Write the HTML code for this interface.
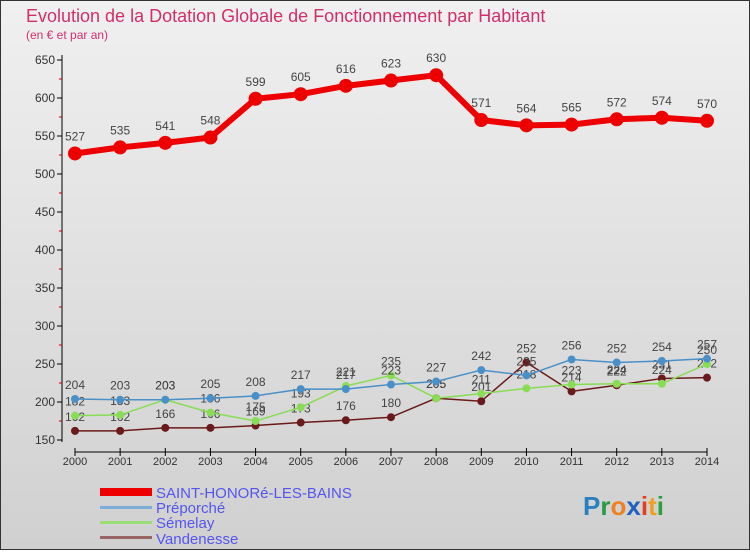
<!DOCTYPE html>
<html><head><meta charset="utf-8"><style>
body{margin:0;width:750px;height:550px;overflow:hidden;font-family:"Liberation Sans",sans-serif}
svg text{font-family:"Liberation Sans",sans-serif}
</style></head><body>
<svg id="c" width="750" height="550" viewBox="0 0 750 550">
<defs><linearGradient id="bg" x1="0" y1="0" x2="0" y2="1"><stop offset="0" stop-color="#f0f0f0"/><stop offset="1" stop-color="#d0d0d0"/></linearGradient></defs>
<rect x="0.5" y="0.5" width="749" height="549" fill="url(#bg)" stroke="#333"/>
<text x="26" y="22" font-size="18" fill="#d0306a">Evolution de la Dotation Globale de Fonctionnement par Habitant</text>
<text x="26" y="39" font-size="12" fill="#d0306a">(en € et par an)</text>
<g id="axes"></g><g id="series"></g>
<g>
<rect x="100" y="488" width="52" height="8" fill="#e00"/>
<text x="156" y="498" font-size="15" fill="#5555ee">SAINT-HONORé-LES-BAINS</text>
<rect x="100" y="506" width="52" height="3" fill="#7aaed8"/>
<text x="156" y="513" font-size="15" fill="#5555ee">Préporché</text>
<rect x="100" y="521" width="52" height="3" fill="#99dd77"/>
<text x="156" y="528" font-size="15" fill="#5555ee">Sémelay</text>
<rect x="100" y="536" width="52" height="3" fill="#996666"/>
<text x="156" y="544" font-size="15" fill="#5555ee">Vandenesse</text>
</g>
<text x="583" y="515" font-size="26" font-weight="bold"><tspan fill="#2a7fc0">P</tspan><tspan fill="#2a9a40">r</tspan><tspan fill="#f08020">o</tspan><tspan fill="#2060c0">x</tspan><tspan fill="#e04020">i</tspan><tspan fill="#f0a020">t</tspan><tspan fill="#2aa040">i</tspan></text>
</svg>
<script>
const years=[2000,2001,2002,2003,2004,2005,2006,2007,2008,2009,2010,2011,2012,2013,2014];
const yTicks=[150,200,250,300,350,400,450,500,550,600,650];
const saintHonore=[527,535,541,548,599,605,616,623,630,571,564,565,572,574,570];
const preporche=[204,203,203,205,208,217,217,223,227,242,235,256,252,254,257];
const semelay=[182,183,203,186,175,193,221,235,205,211,218,223,224,224,250];
const vandenesse=[162,162,166,166,169,173,176,180,205,201,252,214,222,231,232];
const NS="http://www.w3.org/2000/svg";
const xs=i=>75+i*(632/14);
const ys=v=>440-(v-150)*0.76;
function mk(t,a,p){const e=document.createElementNS(NS,t);for(const k in a)e.setAttribute(k,a[k]);p.appendChild(e);return e;}
const ax=document.getElementById('axes');
let l=mk('line',{x1:62,y1:55,x2:62,y2:442,stroke:'#000'},ax);


l=mk('line',{x1:75,y1:452,x2:707,y2:452,stroke:'#000'},ax);


yTicks.forEach(v=>{
 mk('line',{x1:57,y1:ys(v),x2:62,y2:ys(v),stroke:'#000'},ax);
 if(v<650) mk('line',{x1:59,y1:ys(v+25),x2:62,y2:ys(v+25),stroke:'#c00'},ax);
 const t=mk('text',{x:55,y:ys(v)+4,'font-size':12,'text-anchor':'end',fill:'#333'},ax);t.textContent=v;
 
 
});
years.forEach((y,i)=>{
 mk('line',{x1:xs(i),y1:448,x2:xs(i),y2:456,stroke:'#000'},ax);
 const t=mk('text',{x:xs(i),y:465,'font-size':11,'text-anchor':'middle',fill:'#333'},ax);t.textContent=y;
 
 
});
const sg=document.getElementById('series');
function draw(data,col,w,r,name){
 const g=mk('g',{},sg);
 
 
 const p=mk('polyline',{points:data.map((v,i)=>xs(i)+','+ys(v)).join(' '),fill:'none',stroke:col,'stroke-width':w,'stroke-linejoin':'round'},g);
 
 
 data.forEach((v,i)=>{
  const c=mk('circle',{cx:xs(i),cy:ys(v),r:r,fill:col},g);
  
  
  const t=mk('text',{x:xs(i),y:ys(v)-(r+6),'font-size':12,'text-anchor':'middle',fill:'#444'},g);t.textContent=v;
  
  
 });
}
draw(vandenesse,'#6a1a1a',1.5,4,'vandenesse');
draw(semelay,'#88dd55',1.5,4,'semelay');
draw(preporche,'#4a90c8',1.5,4,'preporche');
draw(saintHonore,'#ee0000',6,7,'saint-honore');
</script>
</body></html>
